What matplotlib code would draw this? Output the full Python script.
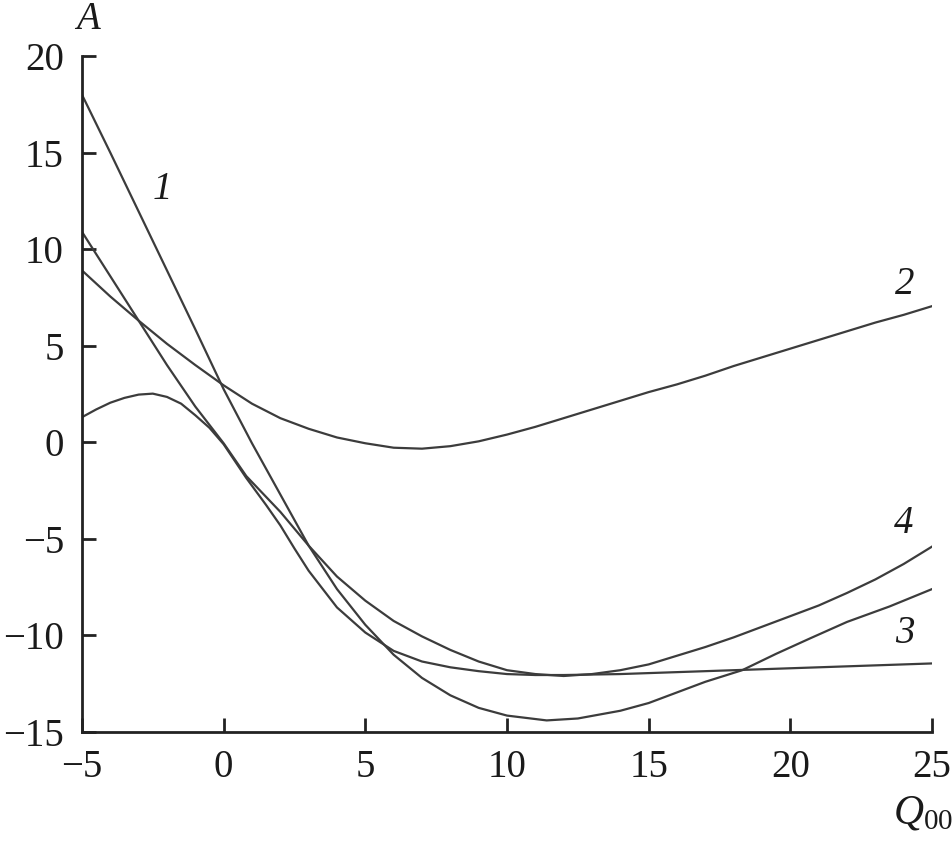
import numpy as np
import matplotlib
matplotlib.use("Agg")
import matplotlib.pyplot as plt

plt.rcParams["font.family"] = ["Liberation Serif", "DejaVu Serif"]
plt.rcParams["mathtext.fontset"] = "custom"
plt.rcParams["mathtext.rm"] = "Liberation Serif"
plt.rcParams["mathtext.it"] = "Liberation Serif:italic"

# ---- curves (Q00, A) ----
x1 = [-5, -4, -3, -2, -1, 0, 1, 2, 3, 4, 5, 6, 7, 8, 9, 10, 11.4, 12.5, 14, 15, 16, 17, 18.3, 19.5, 20.7, 22, 23.5, 25]
y1 = [18.0, 15.0, 11.95, 8.9, 5.85, 2.75, -0.05, -2.7, -5.35, -7.6, -9.45, -11.0, -12.2, -13.1, -13.75, -14.15,
      -14.4, -14.3, -13.9, -13.5, -12.95, -12.4, -11.8, -10.95, -10.15, -9.3, -8.5, -7.6]

x2 = [-5, -4, -3, -2, -1, 0, 1, 2, 3, 4, 5, 6, 7, 8, 9, 10, 11, 12, 13, 14, 15, 16, 17, 18, 19, 20, 21, 22, 23, 24, 25]
y2 = [8.9, 7.55, 6.3, 5.1, 4.0, 2.95, 2.0, 1.25, 0.7, 0.25, -0.05, -0.28, -0.33, -0.2, 0.05, 0.4, 0.8, 1.25,
      1.7, 2.15, 2.6, 3.0, 3.45, 3.95, 4.4, 4.85, 5.3, 5.75, 6.2, 6.6, 7.05]

x3 = [-5, -4.5, -4, -3.5, -3, -2.5, -2, -1.5, -1, -0.5, 0, 0.8, 1.5, 2, 2.5, 3, 4, 5, 6, 7, 8, 9, 10, 11, 12, 14,
      16, 18, 20, 22, 25]
y3 = [1.3, 1.7, 2.05, 2.3, 2.47, 2.52, 2.35, 2.0, 1.4, 0.75, -0.1, -1.85, -3.25, -4.3, -5.5, -6.65, -8.55, -9.85,
      -10.8, -11.35, -11.65, -11.85, -12.0, -12.05, -12.05, -12.0, -11.9, -11.8, -11.7, -11.6, -11.45]

x4 = [-5, -4, -3, -2, -1, -0.5, 0, 0.8, 2, 3, 4, 5, 6, 7, 8, 9, 10, 11, 12, 13, 14, 15, 16, 17, 18, 19, 20, 21,
      22, 23, 24, 25]
y4 = [10.9, 8.6, 6.3, 4.0, 1.85, 0.9, -0.05, -1.75, -3.6, -5.35, -6.95, -8.2, -9.25, -10.05, -10.75, -11.35, -11.8,
      -12.0, -12.1, -12.0, -11.8, -11.5, -11.05, -10.6, -10.1, -9.55, -9.0, -8.45, -7.8, -7.1, -6.3, -5.4]

xticks = [-5, 0, 5, 10, 15, 20, 25]
yticks = [-15, -10, -5, 0, 5, 10, 15, 20]

LC = "#3c3c3c"
FS = 28

fig = plt.figure(figsize=(9.53, 8.44), dpi=100)
ax = fig.add_axes([0.086, 0.1327, 0.892, 0.8009])

for xs, ys in [(x1, y1), (x2, y2), (x3, y3), (x4, y4)]:
    ax.plot(xs, ys, color=LC, lw=1.6, solid_joinstyle="round")

ax.set_xlim(-5, 25)
ax.set_ylim(-15, 20)
ax.set_xticks(xticks)
ax.set_yticks(yticks)
ax.set_xticklabels([f"{v}".replace("-", "\u2212") for v in xticks])
ax.set_yticklabels([f"{v}".replace("-", "\u2212") for v in yticks])
for s in ["top", "right"]:
    ax.spines[s].set_visible(False)
for s in ["left", "bottom"]:
    ax.spines[s].set_linewidth(2.0)
    ax.spines[s].set_color("#222222")
ax.tick_params(direction="in", length=10, width=2.0, color="#222222", labelsize=FS, labelcolor="#1a1a1a")
ax.tick_params(axis="x", pad=12)
ax.tick_params(axis="y", pad=13)

# curve labels
kw = dict(fontsize=FS, style="italic", color="#1a1a1a", ha="center", va="center")
ax.text(-2.18, 13.1, "1", **kw)
ax.text(24.05, 8.15, "2", **kw)
ax.text(24.0, -4.2, "4", **kw)
ax.text(24.05, -9.9, "3", **kw)

# axis names
ax.text(-4.79, 21.9, "A", clip_on=False, **kw)
ax.text(24.7, -19.2, r"$Q_{\mathrm{00}}$", fontsize=FS + 2, color="#1a1a1a",
        ha="center", va="center", clip_on=False)

fig.savefig("out.png", dpi=100)
